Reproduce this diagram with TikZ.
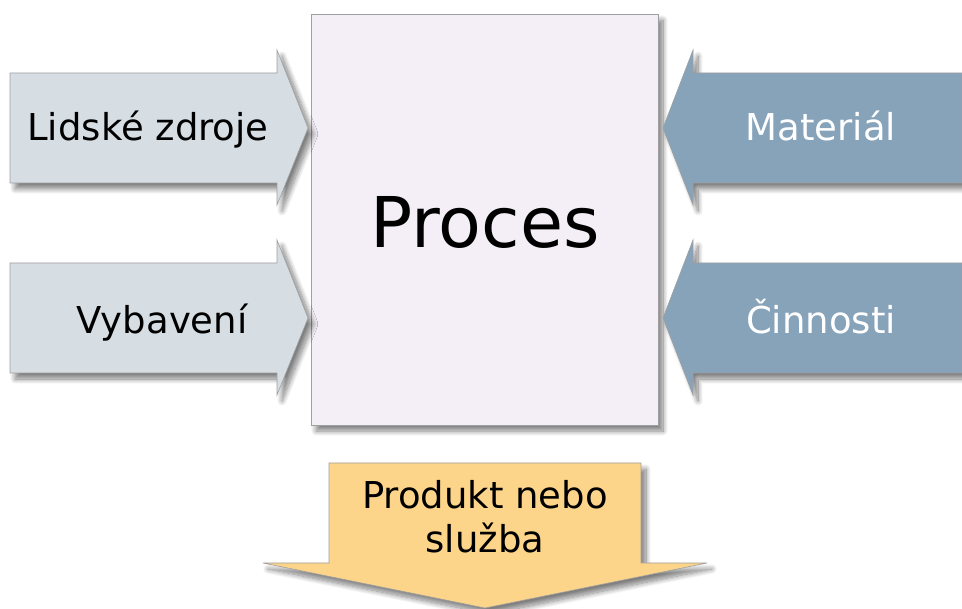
\documentclass[tikz,border=0pt]{standalone}
\usepackage{fontspec}
\setmainfont{DejaVu Sans}
\usetikzlibrary{shadows.blur}
\definecolor{procfill}{RGB}{244,239,247}
\definecolor{leftfill}{RGB}{215,222,227}
\definecolor{rightfill}{RGB}{135,163,186}
\definecolor{outfill}{RGB}{253,213,138}

\tikzset{
  shape outline/.style={draw=gray!75, line width=0.6pt,
    blur shadow={shadow xshift=5pt, shadow yshift=-6pt, shadow opacity=50, shadow blur steps=12, shadow blur radius=5pt}},
  label big/.style={font=\fontsize{70}{84}\selectfont, anchor=base},
  label mid/.style={font=\fontsize{37}{44}\selectfont, anchor=base}
}

\begin{document}
\begin{tikzpicture}[x=1pt,y=-1pt]
    \useasboundingbox (0,0) rectangle (962,609);

    % process box
    \filldraw[shape outline, fill=procfill] (311,14) rectangle (658,425);
    \node[label big] (proc) at (485,248) {Proces};

    % inputs from the left
    \filldraw[shape outline, fill=leftfill] (10,73) -- (277,73) -- (277,50) -- (308,128)
        -- (277,205) -- (277,183) -- (10,183) -- cycle;
    \filldraw[shape outline, fill=leftfill] (10,263) -- (277,263) -- (277,240) -- (308,318)
        -- (277,395) -- (277,373) -- (10,373) -- cycle;
    \node[label mid] (people) at (148,141) {Lidské zdroje};
    \node[label mid] (equip) at (162,334) {Vybavení};

    % inputs from the right
    \filldraw[shape outline, fill=rightfill] (962,73) -- (693,73) -- (693,50) -- (663,128)
        -- (693,205) -- (693,183) -- (962,183) -- cycle;
    \filldraw[shape outline, fill=rightfill] (962,263) -- (693,263) -- (693,240) -- (663,318)
        -- (693,395) -- (693,373) -- (962,373) -- cycle;
    \node[label mid, text=white] (material) at (821,141) {Materiál};
    \node[label mid, text=white] (tasks) at (821,334) {Činnosti};

    % output downwards
    \filldraw[shape outline, fill=outfill] (329,463) -- (641,463) -- (641,563) -- (707,563)
        -- (485,608) -- (263,563) -- (329,563) -- cycle;
    \node[label mid] (product) at (485,509) {Produkt nebo};
    \node[label mid] (service) at (485,553) {služba};
\end{tikzpicture}
\end{document}
